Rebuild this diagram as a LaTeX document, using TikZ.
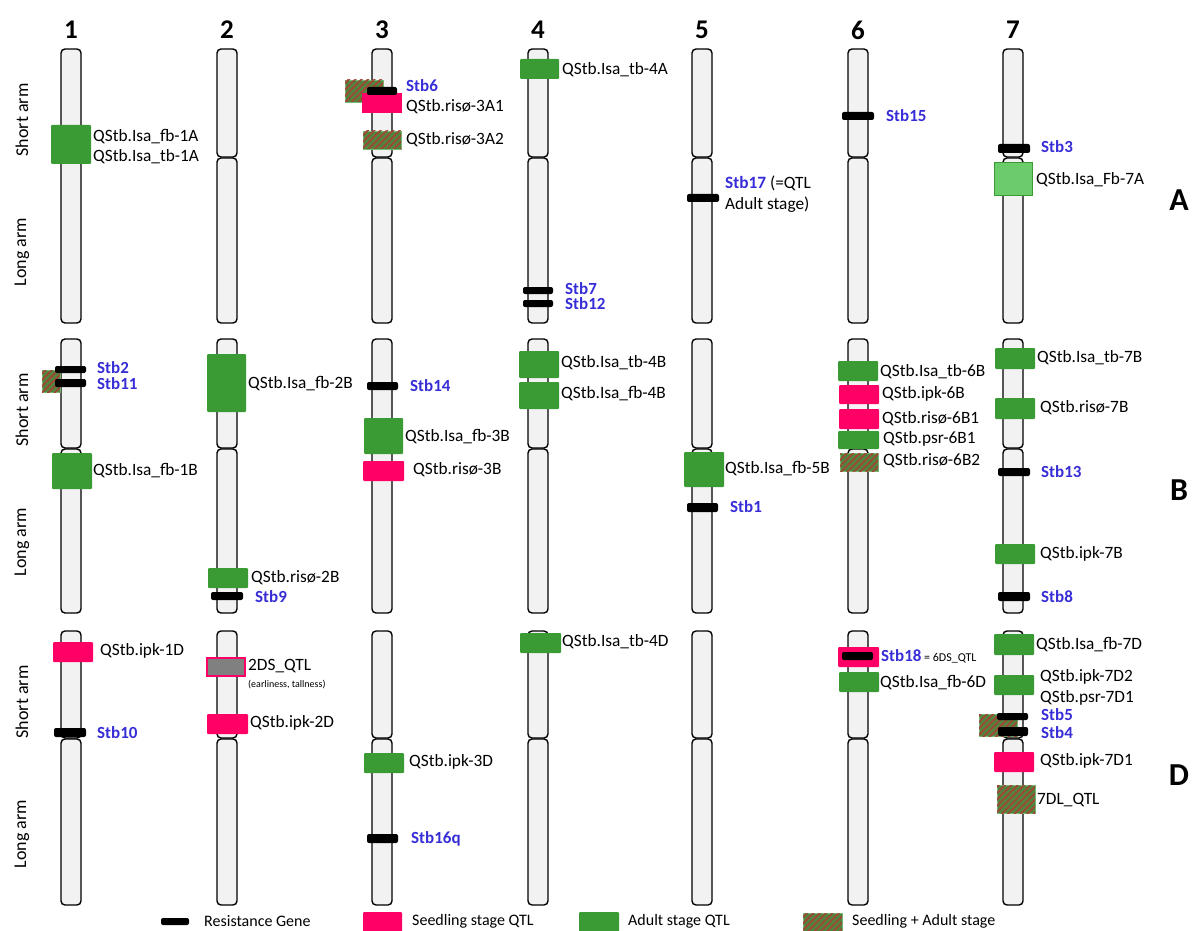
\documentclass[tikz,border=0pt]{standalone}
\usepackage{fontspec}
\setmainfont{Carlito}
\usetikzlibrary{patterns.meta}
\definecolor{chromgrey}{RGB}{242,242,242}
\definecolor{adultgreen}{RGB}{58,155,53}
\definecolor{lightgreen}{RGB}{106,204,106}
\definecolor{seedpink}{RGB}{255,0,102}
\definecolor{hatchgreen}{RGB}{80,134,60}
\definecolor{hatchred}{RGB}{160,70,56}
\definecolor{stbblue}{RGB}{55,45,215}
\tikzset{
    chrom/.style={
        draw=black,
        fill=chromgrey,
        line width=1.4pt,
        rounded corners=4pt
    },
    gene/.style={fill=black, rounded corners=2pt},
    seedling/.style={fill=seedpink, rounded corners=1pt},
    adult/.style={fill=adultgreen, rounded corners=1pt},
    both/.style={
        fill=hatchgreen,
        draw=adultgreen!70!white,
        line width=0.8pt,
        postaction={
            pattern={Lines[angle=45,distance=4.5pt,line width=1.8pt]},
            pattern color=hatchred
        }
    },
    qtl/.style={anchor=west, inner sep=0pt, font=\fontsize{17.3}{20}\selectfont},
    stb/.style={anchor=west, inner sep=0pt, text=stbblue, font=\bfseries\fontsize{17}{20}\selectfont},
    legtext/.style={anchor=west, inner sep=0pt, font=\fontsize{16}{18}\selectfont},
    armlabel/.style={rotate=90, inner sep=0pt, font=\fontsize{18}{20}\selectfont},
    chromnum/.style={font=\bfseries\fontsize{27}{30}\selectfont},
    genome/.style={font=\bfseries\fontsize{32}{36}\selectfont}
}

\begin{document}
\begin{tikzpicture}[x=1pt, y=-1pt]
    \useasboundingbox (0,0) rectangle (1195,931);
    % chromosomes, three rows of seven
    \foreach \cx/\n in {71/1,227/2,382/3,538/4,702/5,858/6,1013/7}{
        \node[chromnum] (num\n) at (\cx,30) {\n};
        \foreach \top/\cen/\bot in {49/157/323,339/448/613,631/738/905}{
            \draw[chrom] (\cx-10,\top) rectangle (\cx+10,\cen);
            \draw[chrom] (\cx-10,\cen+1) rectangle (\cx+10,\bot);
        }
    }
    \foreach \top/\g in {49/A,339/B,631/D}{
        \node[armlabel] (short\g) at (22,\top+71) {Short arm};
        \node[armlabel] (long\g) at (22,\top+203) {Long arm};
    }
    \node[genome] (gA) at (1179,200) {A};
    \node[genome] (gB) at (1179,490) {B};
    \node[genome] (gD) at (1179,775) {D};

    % --- A genome ---
    \fill[adult] (51,125) rectangle (91,164);
    \node[qtl] (q1Aa) at (93,137) {QStb.Isa\_fb-1A};
    \node[qtl] (q1Ab) at (93,157) {QStb.Isa\_tb-1A};

    \draw[both] (345,80) rectangle (383,102);
    \fill[seedpink] (362,93) rectangle (402,113);
    \fill[gene] (367,87) rectangle (397,95);
    \node[stb] (stb6) at (406,86) {Stb6};
    \node[qtl] (q3Aa) at (406,107) {QStb.risø-3A1};
    \draw[both] (363,131) rectangle (401,149);
    \node[qtl] (q3Ab) at (406,140) {QStb.risø-3A2};

    \fill[adult] (520,59) rectangle (559,79);
    \node[qtl] (q4A) at (562,70) {QStb.Isa\_tb-4A};
    \fill[gene] (523,287) rectangle (553,294);
    \fill[gene] (523,300) rectangle (553,307);
    \node[stb] (stb7) at (565,289) {Stb7};
    \node[stb] (stb12) at (565,304) {Stb12};

    \fill[gene] (687,194) rectangle (719,202);
    \node[qtl] (stb17) at (725,183) {\textcolor{stbblue}{\textbf{Stb17}} (=QTL};
    \node[qtl] (stb17b) at (725,205) {Adult stage)};

    \fill[gene] (842,112) rectangle (874,120);
    \node[stb] (stb15) at (886,116) {Stb15};

    \fill[gene] (998,144) rectangle (1030,153);
    \node[stb] (stb3) at (1041,147) {Stb3};
    \draw[fill=lightgreen, draw=adultgreen, line width=1pt] (994,163) rectangle (1032,196);
    \node[qtl] (q7A) at (1036,180) {QStb.Isa\_Fb-7A};

    % --- B genome ---
    \draw[both] (42,370) rectangle (60,392);
    \fill[gene] (55,366) rectangle (86,373);
    \fill[gene] (55,379) rectangle (86,387);
    \node[stb] (stb2) at (97,368) {Stb2};
    \node[stb] (stb11) at (97,384) {Stb11};
    \fill[adult] (52,453) rectangle (92,489);
    \node[qtl] (q1B) at (93,471) {QStb.Isa\_fb-1B};

    \fill[adult] (207,354) rectangle (246,412);
    \node[qtl] (q2Ba) at (248,384) {QStb.Isa\_fb-2B};
    \fill[adult] (208,568) rectangle (248,588);
    \node[qtl] (q2Bb) at (251,578) {QStb.risø-2B};
    \fill[gene] (211,592) rectangle (243,600);
    \node[stb] (stb9) at (255,597) {Stb9};

    \fill[gene] (367,382) rectangle (398,390);
    \node[stb] (stb14) at (410,386) {Stb14};
    \fill[adult] (364,418) rectangle (403,454);
    \node[qtl] (q3Ba) at (405,437) {QStb.Isa\_fb-3B};
    \fill[seedling] (363,461) rectangle (404,481);
    \node[qtl] (q3Bb) at (413,470) {QStb.risø-3B};

    \fill[adult] (519,351) rectangle (559,378);
    \node[qtl] (q4Ba) at (561,363) {QStb.Isa\_tb-4B};
    \fill[adult] (519,382) rectangle (559,409);
    \node[qtl] (q4Bb) at (561,394) {QStb.Isa\_fb-4B};

    \fill[adult] (684,452) rectangle (724,487);
    \node[qtl] (q5B) at (725,469) {QStb.Isa\_fb-5B};
    \fill[gene] (687,503) rectangle (718,512);
    \node[stb] (stb1) at (730,507) {Stb1};

    \fill[adult] (838,361) rectangle (878,381);
    \node[qtl] (q6Ba) at (880,372) {QStb.Isa\_tb-6B};
    \fill[seedling] (839,385) rectangle (879,404);
    \node[qtl] (q6Bb) at (882,394) {QStb.ipk-6B};
    \fill[seedling] (839,409) rectangle (879,429);
    \node[qtl] (q6Bc) at (882,419) {QStb.risø-6B1};
    \fill[adult] (838,431) rectangle (879,449);
    \node[qtl] (q6Bd) at (883,439) {QStb.psr-6B1};
    \draw[both] (840,453) rectangle (878,471);
    \node[qtl] (q6Be) at (883,461) {QStb.risø-6B2};

    \fill[adult] (995,348) rectangle (1035,369);
    \node[qtl] (q7Ba) at (1037,358) {QStb.Isa\_tb-7B};
    \fill[adult] (995,398) rectangle (1035,419);
    \node[qtl] (q7Bb) at (1040,408) {QStb.risø-7B};
    \fill[gene] (998,468) rectangle (1030,476);
    \node[stb] (stb13) at (1041,472) {Stb13};
    \fill[adult] (995,544) rectangle (1035,564);
    \node[qtl] (q7Bc) at (1040,554) {QStb.ipk-7B};
    \fill[gene] (998,592) rectangle (1030,601);
    \node[stb] (stb8) at (1041,597) {Stb8};

    % --- D genome ---
    \fill[seedling] (53,642) rectangle (93,662);
    \node[qtl] (q1D) at (100,651) {QStb.ipk-1D};
    \fill[gene] (54,728) rectangle (86,737);
    \node[stb] (stb10) at (97,733) {Stb10};

    \draw[fill=gray, draw=seedpink, line width=1.2pt] (207,658) rectangle (245,676);
    \node[qtl] (q2Da) at (248,666) {2DS\_QTL};
    \node[qtl, font=\fontsize{10}{12}\selectfont] (q2Dnote) at (248,685) {(earliness, tallness)};
    \fill[seedling] (207,714) rectangle (248,734);
    \node[qtl] (q2Db) at (250,723) {QStb.ipk-2D};

    \fill[adult] (364,753) rectangle (404,773);
    \node[qtl] (q3D) at (409,762) {QStb.ipk-3D};
    \fill[gene] (367,834) rectangle (398,843);
    \node[stb] (stb16) at (411,839) {Stb16q};

    \fill[adult] (520,633) rectangle (561,653);
    \node[qtl] (q4D) at (562,642) {QStb.Isa\_tb-4D};

    \fill[seedling] (838,647) rectangle (879,667);
    \fill[gene] (842,652) rectangle (873,660);
    \node[stb] (stb18) at (881,656) {Stb18\textcolor{black}{\mdseries\fontsize{12}{14}\selectfont{} = 6DS\_QTL}};
    \fill[adult] (839,672) rectangle (879,692);
    \node[qtl] (q6D) at (880,683) {QStb.Isa\_fb-6D};

    \fill[adult] (994,634) rectangle (1034,655);
    \node[qtl] (q7Da) at (1036,645) {QStb.Isa\_fb-7D};
    \fill[adult] (994,675) rectangle (1034,695);
    \node[qtl] (q7Db) at (1040,677) {QStb.ipk-7D2};
    \node[qtl] (q7Dc) at (1040,698) {QStb.psr-7D1};
    \draw[both] (979,714) rectangle (1017,736);
    \fill[gene] (997,713) rectangle (1028,720);
    \fill[gene] (998,727) rectangle (1028,736);
    \node[stb] (stb5) at (1041,715) {Stb5};
    \node[stb] (stb4) at (1041,733) {Stb4};
    \fill[seedling] (994,752) rectangle (1034,772);
    \node[qtl] (q7Dd) at (1040,761) {QStb.ipk-7D1};
    \draw[both] (997,785) rectangle (1035,813);
    \node[qtl] (q7De) at (1037,800) {7DL\_QTL};

    % legend
    \fill[gene] (161,918) rectangle (189,925);
    \node[legtext] (legGene) at (204,921) {Resistance Gene};
    \fill[seedling] (363,912) rectangle (402,936);
    \node[legtext] (legSeed) at (412,921) {Seedling stage QTL};
    \fill[adult] (579,912) rectangle (619,936);
    \node[legtext] (legAdult) at (628,921) {Adult stage QTL};
    \draw[both] (803,913) rectangle (842,936);
    \node[legtext] (legBoth) at (852,921) {Seedling + Adult stage};
\end{tikzpicture}
\end{document}
